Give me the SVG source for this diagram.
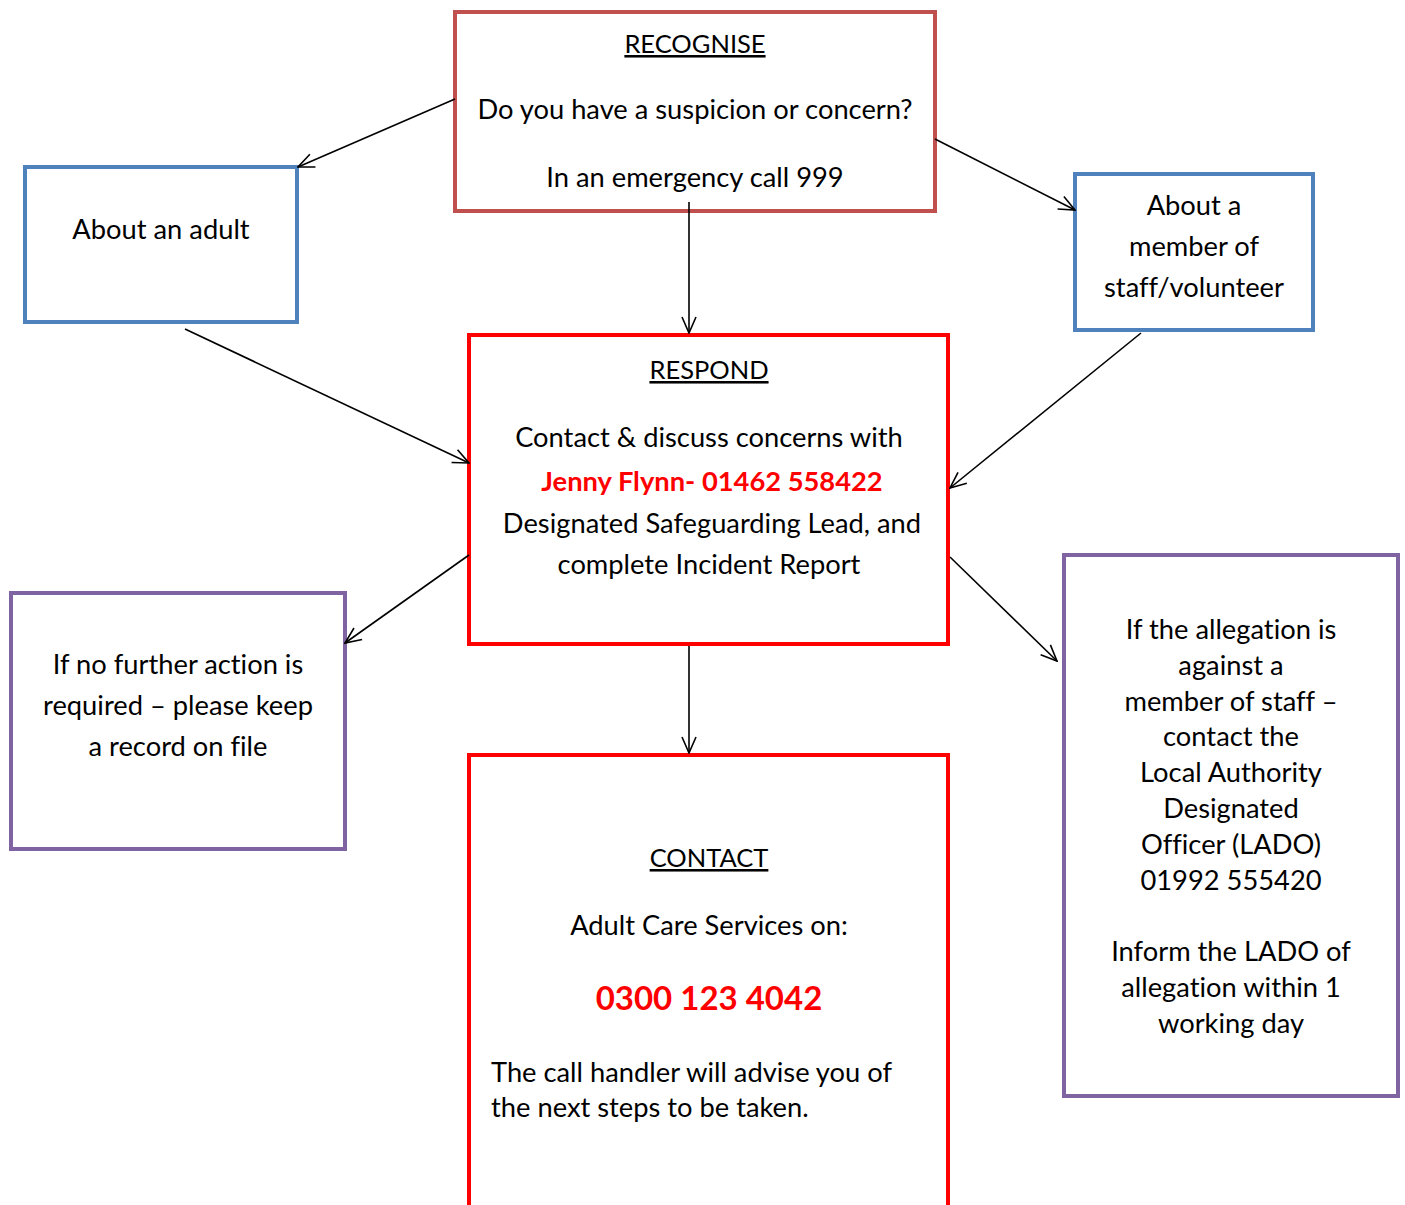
<svg xmlns="http://www.w3.org/2000/svg" width="1405" height="1205" viewBox="0 0 1405 1205">
<style>
text{font-family:Lato,"Open Sans","Liberation Sans",sans-serif;font-size:27.3px;fill:#000;text-anchor:middle;font-variant-ligatures:none}
.u{text-decoration:underline;font-size:25.5px}
.red{fill:#FF0000;font-weight:bold}
.box{fill:#fff;stroke-width:4}
.rec{stroke:#C0504D}
.blue{stroke:#4F81BD}
.r{stroke:#FF0000}
.pur{stroke:#8064A2}
.c{stroke:#000;stroke-width:1.6;fill:none}
</style>
<defs>
<marker id="a" viewBox="0 0 20 20" refX="19" refY="10" markerWidth="20" markerHeight="20" markerUnits="userSpaceOnUse" orient="auto">
<path d="M3,3 L19,10 L3,17" fill="none" stroke="#000" stroke-width="1.6"/>
</marker>
</defs>
<rect width="1405" height="1205" fill="#fff"/>
<g id="recognise">
<rect class="box rec" x="455" y="12" width="480" height="199"/>
<text x="695" y="53" class="u">RECOGNISE</text>
<text x="695" y="119">Do you have a suspicion or concern?</text>
<text x="695" y="187">In an emergency call 999</text>
</g>
<g id="adult">
<rect class="box blue" x="25" y="167" width="272" height="155"/>
<text x="161" y="239">About an adult</text>
</g>
<g id="staff">
<rect class="box blue" x="1075" y="174" width="238" height="156"/>
<text x="1194" y="215">About a</text>
<text x="1194" y="256">member of</text>
<text x="1194" y="297">staff/volunteer</text>
</g>
<g id="respond">
<rect class="box r" x="469" y="335" width="479" height="309"/>
<text x="709" y="379" class="u">RESPOND</text>
<text x="709" y="447">Contact &amp; discuss concerns with</text>
<text x="712" y="491" class="red">Jenny Flynn- 01462 558422</text>
<text x="712" y="533">Designated Safeguarding Lead, and</text>
<text x="709" y="574">complete Incident Report</text>
</g>
<g id="nfa">
<rect class="box pur" x="11" y="593" width="334" height="256"/>
<text x="178" y="674">If no further action is</text>
<text x="178" y="715">required – please keep</text>
<text x="178" y="756">a record on file</text>
</g>
<g id="lado">
<rect class="box pur" x="1064" y="555" width="334" height="541"/>
<text x="1231" y="639">If the allegation is</text>
<text x="1231" y="675">against a</text>
<text x="1231" y="711">member of staff –</text>
<text x="1231" y="746">contact the</text>
<text x="1231" y="782">Local Authority</text>
<text x="1231" y="818">Designated</text>
<text x="1231" y="854">Officer (LADO)</text>
<text x="1231" y="890">01992 555420</text>
<text x="1231" y="961">Inform the LADO of</text>
<text x="1231" y="997">allegation within 1</text>
<text x="1231" y="1033">working day</text>
</g>
<g id="contact">
<rect class="box r" x="469" y="755" width="479" height="470"/>
<text x="709" y="867" class="u">CONTACT</text>
<text x="709" y="935">Adult Care Services on:</text>
<text x="709" y="1010" class="red" style="font-size:33px">0300 123 4042</text>
<text x="491" y="1082" style="text-anchor:start">The call handler will advise you of</text>
<text x="491" y="1117" style="text-anchor:start">the next steps to be taken.</text>
</g>
<g id="connectors">
<line class="c" x1="455" y1="99" x2="298" y2="167" marker-end="url(#a)"/>
<line class="c" x1="935" y1="139" x2="1075" y2="210" marker-end="url(#a)"/>
<line class="c" x1="689" y1="202" x2="689" y2="333" marker-end="url(#a)"/>
<line class="c" x1="185" y1="329" x2="469" y2="463" marker-end="url(#a)"/>
<line class="c" x1="1141" y1="333" x2="950" y2="488" marker-end="url(#a)"/>
<line class="c" x1="469" y1="555" x2="345" y2="643" marker-end="url(#a)"/>
<line class="c" x1="950" y1="557" x2="1057" y2="661" marker-end="url(#a)"/>
<line class="c" x1="689" y1="646" x2="689" y2="753" marker-end="url(#a)"/>
</g>
</svg>
